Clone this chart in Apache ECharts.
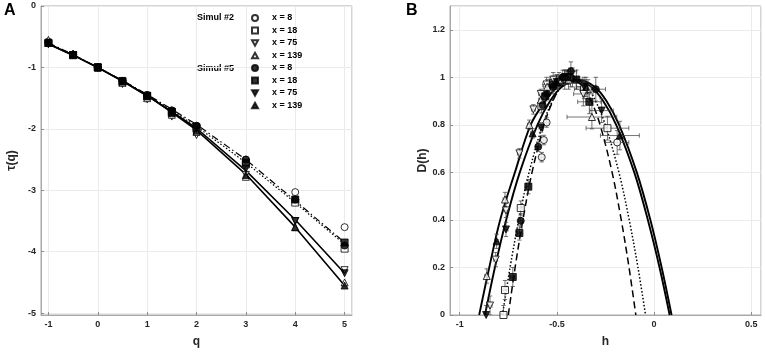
<!DOCTYPE html>
<html>
<head>
<meta charset="utf-8">
<script src="https://cdn.jsdelivr.net/npm/echarts@6/dist/echarts.min.js"></script>
<style>
  html, body { margin: 0; padding: 0; background: #fff; }
  #main { width: 765px; height: 353px; }
</style>
</head>
<body>
<div id="main"></div>
<script>
// ---- panel A: tau(q) ----
const qValues = [-1, -0.5, 0, 0.5, 1, 1.5, 2, 3, 4, 5];

// markers, Simul #2 (open) and Simul #5 (filled)
const tauS2x8 = [-0.58, -0.79, -1, -1.22, -1.45, -1.70, -1.95, -2.50, -3.03, -3.60];
const tauS2x18 = [-0.60, -0.80, -1, -1.24, -1.47, -1.74, -2.00, -2.58, -3.20, -3.95];
const tauS2x75 = [-0.62, -0.80, -1, -1.27, -1.52, -1.80, -2.10, -2.75, -3.50, -4.30];
const tauS2x139 = [-0.55, -0.78, -1, -1.25, -1.50, -1.77, -2.05, -2.78, -3.60, -4.50];
const tauS5x8 = [-0.60, -0.79, -1, -1.22, -1.45, -1.70, -1.95, -2.50, -3.15, -3.90];
const tauS5x18 = [-0.60, -0.80, -1, -1.22, -1.46, -1.72, -1.97, -2.55, -3.15, -3.85];
const tauS5x75 = [-0.62, -0.80, -1, -1.23, -1.47, -1.73, -2.00, -2.65, -3.50, -4.35];
const tauS5x139 = [-0.60, -0.78, -1, -1.23, -1.47, -1.74, -2.03, -2.75, -3.60, -4.55];

// fitted tau lines
const tauFit8 = [-0.60, -0.79, -1, -1.21, -1.44, -1.68, -1.93, -2.50, -3.17, -3.85];
const tauFit18 = [-0.61, -0.80, -1, -1.22, -1.45, -1.70, -1.96, -2.55, -3.20, -3.88];
const tauFit75 = [-0.62, -0.80, -1, -1.22, -1.46, -1.72, -1.99, -2.68, -3.48, -4.35];
const tauFit139 = [-0.62, -0.80, -1, -1.22, -1.46, -1.73, -2.02, -2.74, -3.60, -4.55];

// ---- panel B: D(h), points are [h, D, hErr, DErr] ----
const dhS2x8 = [[-0.19, 0.726, 0.06, 0.05], [-0.34, 0.95, 0.04, 0.04], [-0.43, 1.0, 0.03, 0.04], [-0.50, 0.98, 0.02, 0.03],
  [-0.553, 0.81, 0.01, 0.02], [-0.567, 0.736, 0.01, 0.02], [-0.578, 0.664, 0.01, 0.02]];
const dhS2x18 = [[-0.24, 0.786, 0.11, 0.05], [-0.36, 0.95, 0.05, 0.04], [-0.45, 1.0, 0.03, 0.03], [-0.52, 0.975, 0.02, 0.03],
  [-0.58, 0.88, 0.015, 0.03], [-0.686, 0.45, 0.01, 0.03], [-0.767, 0.105, 0.01, 0.04], [-0.775, 0.0, 0.01, 0.04]];
const dhS2x75 = [[-0.364, 0.93, 0.05, 0.05], [-0.46, 0.99, 0.03, 0.04], [-0.519, 0.99, 0.02, 0.03], [-0.553, 0.97, 0.02, 0.03],
  [-0.583, 0.93, 0.01, 0.02], [-0.621, 0.865, 0.01, 0.02], [-0.693, 0.68, 0.01, 0.02], [-0.762, 0.44, 0.01, 0.03],
  [-0.815, 0.233, 0.01, 0.03], [-0.844, 0.04, 0.01, 0.04]];
const dhS2x139 = [[-0.32, 0.833, 0.128, 0.05], [-0.44, 0.99, 0.04, 0.04], [-0.489, 0.99, 0.02, 0.03], [-0.55, 0.96, 0.02, 0.03],
  [-0.583, 0.905, 0.01, 0.02], [-0.642, 0.80, 0.01, 0.02], [-0.767, 0.486, 0.01, 0.03], [-0.861, 0.164, 0.01, 0.03]];
const dhS5x8 = [[-0.30, 0.95, 0.05, 0.05], [-0.428, 1.025, 0.03, 0.04], [-0.47, 1.0, 0.02, 0.03], [-0.52, 0.96, 0.02, 0.03],
  [-0.55, 0.93, 0.01, 0.02], [-0.573, 0.883, 0.01, 0.02], [-0.596, 0.708, 0.01, 0.02], [-0.686, 0.396, 0.01, 0.03]];
const dhS5x18 = [[-0.333, 0.897, 0.06, 0.05], [-0.40, 0.99, 0.03, 0.04], [-0.46, 1.0, 0.02, 0.03], [-0.52, 0.97, 0.02, 0.03],
  [-0.56, 0.92, 0.01, 0.02], [-0.647, 0.54, 0.01, 0.03], [-0.693, 0.345, 0.01, 0.03], [-0.727, 0.16, 0.01, 0.04]];
const dhS5x75 = [[-0.27, 0.86, 0.06, 0.05], [-0.36, 0.96, 0.04, 0.04], [-0.44, 1.0, 0.03, 0.03], [-0.50, 0.98, 0.02, 0.03],
  [-0.582, 0.789, 0.01, 0.02], [-0.762, 0.36, 0.01, 0.03], [-0.864, 0.0, 0.01, 0.04]];
const dhS5x139 = [[-0.176, 0.755, 0.10, 0.06], [-0.35, 0.96, 0.05, 0.04], [-0.42, 1.0, 0.03, 0.04], [-0.50, 0.98, 0.02, 0.03],
  [-0.625, 0.764, 0.01, 0.02], [-0.81, 0.31, 0.01, 0.03]];

// fitted D(h) curves as [h, D]
const dhFit8 = [[-0.75, 0], [-0.715, 0.2], [-0.675, 0.4], [-0.628, 0.6], [-0.566, 0.8], [-0.521, 0.9], [-0.479, 0.96],
  [-0.422, 0.99], [-0.365, 0.96], [-0.323, 0.9], [-0.278, 0.8], [-0.216, 0.6], [-0.169, 0.4], [-0.129, 0.2], [-0.094, 0]];
const dhFit18 = [[-0.78, 0], [-0.741, 0.2], [-0.696, 0.4], [-0.643, 0.6], [-0.573, 0.8], [-0.523, 0.9], [-0.476, 0.96],
  [-0.412, 0.99], [-0.348, 0.96], [-0.301, 0.9], [-0.251, 0.8], [-0.181, 0.6], [-0.128, 0.4], [-0.083, 0.2], [-0.044, 0]];
const dhFit75 = [[-0.87, 0], [-0.819, 0.2], [-0.761, 0.4], [-0.691, 0.6], [-0.600, 0.8], [-0.535, 0.9], [-0.474, 0.96],
  [-0.39, 0.99], [-0.306, 0.96], [-0.245, 0.9], [-0.180, 0.8], [-0.089, 0.6], [-0.019, 0.4], [0.039, 0.2], [0.09, 0]];
const dhFit139 = [[-0.90, 0], [-0.848, 0.2], [-0.792, 0.4], [-0.716, 0.6], [-0.635, 0.8], [-0.560, 0.9], [-0.495, 0.96],
  [-0.41, 0.99], [-0.325, 0.96], [-0.262, 0.9], [-0.195, 0.8], [-0.102, 0.6], [-0.032, 0.4], [0.028, 0.2], [0.08, 0]];

const upTri = 'path://M5,0L10,9L0,9Z';
const downTri = 'path://M0,0L10,0L5,9Z';
const openStyle = { color: '#fff', borderColor: '#000', borderWidth: 1 };
const fillStyle = { color: '#000', borderColor: '#000', borderWidth: 1 };

// name has trailing space for Simul #5 so legend entries stay separate
const markerSets = [
  { name: 'x = 8', symbol: 'circle', style: openStyle, tau: tauS2x8, dh: dhS2x8 },
  { name: 'x = 18', symbol: 'rect', style: openStyle, tau: tauS2x18, dh: dhS2x18 },
  { name: 'x = 75', symbol: downTri, style: openStyle, tau: tauS2x75, dh: dhS2x75 },
  { name: 'x = 139', symbol: upTri, style: openStyle, tau: tauS2x139, dh: dhS2x139 },
  { name: 'x = 8 ', symbol: 'circle', style: fillStyle, tau: tauS5x8, dh: dhS5x8 },
  { name: 'x = 18 ', symbol: 'rect', style: fillStyle, tau: tauS5x18, dh: dhS5x18 },
  { name: 'x = 75 ', symbol: downTri, style: fillStyle, tau: tauS5x75, dh: dhS5x75 },
  { name: 'x = 139 ', symbol: upTri, style: fillStyle, tau: tauS5x139, dh: dhS5x139 },
];

const fitSets = [
  { tau: tauFit8, dh: dhFit8, type: [7, 3, 1.5, 3], width: 1.2, bType: [7, 4] },
  { tau: tauFit18, dh: dhFit18, type: [1.5, 2], width: 1.2, bType: [1.5, 2] },
  { tau: tauFit75, dh: dhFit75, type: 'solid', width: 1.6, bType: 'solid' },
  { tau: tauFit139, dh: dhFit139, type: 'solid', width: 1.6, bType: 'solid' },
];

const labelFont = { fontFamily: 'Liberation Sans', fontWeight: 'bold', fontSize: 9, color: '#262626' };
const nameFont = { fontFamily: 'Liberation Sans', fontWeight: 'bold', fontSize: 12, color: '#262626' };

function errRender(params, api) {
  const h = api.value(0), d = api.value(1), eh = api.value(2), ed = api.value(3);
  const c = api.coord([h, d]);
  const l = api.coord([h - eh, d]), r = api.coord([h + eh, d]);
  const t = api.coord([h, d + ed]), b = api.coord([h, d - ed]);
  const cap = 2.2;
  const style = { stroke: '#3a3a3a', lineWidth: 0.7 };
  return {
    type: 'group',
    children: [
      { type: 'line', shape: { x1: l[0], y1: c[1], x2: r[0], y2: c[1] }, style },
      { type: 'line', shape: { x1: l[0], y1: c[1] - cap, x2: l[0], y2: c[1] + cap }, style },
      { type: 'line', shape: { x1: r[0], y1: c[1] - cap, x2: r[0], y2: c[1] + cap }, style },
      { type: 'line', shape: { x1: c[0], y1: t[1], x2: c[0], y2: b[1] }, style },
      { type: 'line', shape: { x1: c[0] - cap, y1: t[1], x2: c[0] + cap, y2: t[1] }, style },
      { type: 'line', shape: { x1: c[0] - cap, y1: b[1], x2: c[0] + cap, y2: b[1] }, style },
    ],
  };
}

function valueAxis(extra) {
  return Object.assign({
    type: 'value',
    axisLine: { show: true, onZero: false, lineStyle: { color: '#a8a8a8', width: 1 } },
    axisTick: { show: true, inside: true, length: 3, lineStyle: { color: '#8c8c8c' } },
    splitLine: { show: true, lineStyle: { color: '#ebebeb', width: 1 } },
    axisLabel: Object.assign({ margin: 5 }, labelFont),
    nameTextStyle: nameFont,
    nameLocation: 'middle',
  }, extra);
}

const series = [];
// panel A lines
fitSets.forEach(f => {
  series.push({
    type: 'line', xAxisIndex: 0, yAxisIndex: 0, symbol: 'none', silent: true, z: 2,
    data: qValues.map((q, i) => [q, f.tau[i]]),
    lineStyle: { color: '#000', width: f.width, type: f.type },
  });
});
// panel A markers
markerSets.forEach(m => {
  series.push({
    type: 'scatter', name: m.name, xAxisIndex: 0, yAxisIndex: 0, z: 3,
    symbol: m.symbol, symbolSize: 7, itemStyle: m.style,
    data: qValues.map((q, i) => [q, m.tau[i]]),
  });
});
// panel B curves
fitSets.forEach(f => {
  series.push({
    type: 'line', xAxisIndex: 1, yAxisIndex: 1, symbol: 'none', silent: true, smooth: 0.35, z: 2,
    data: f.dh,
    lineStyle: { color: '#000', width: f.width + 0.3, type: f.bType },
  });
});
// panel B error bars and markers
markerSets.forEach(m => {
  series.push({
    type: 'custom', name: 'err' + m.name, xAxisIndex: 1, yAxisIndex: 1, z: 3, clip: true, silent: true,
    renderItem: errRender, encode: { x: 0, y: 1 },
    data: m.dh,
  });
  series.push({
    type: 'scatter', name: m.name, xAxisIndex: 1, yAxisIndex: 1, z: 4,
    symbol: m.symbol, symbolSize: 7, itemStyle: m.style,
    data: m.dh.map(p => [p[0], p[1]]),
  });
});

const chart = echarts.init(document.getElementById('main'), null, { renderer: 'canvas' });
chart.setOption({
  backgroundColor: '#fff',
  animation: false,
  grid: [
    { left: 41, top: 6, width: 311, height: 309, show: true, borderColor: '#a8a8a8', borderWidth: 1 },
    { left: 450, top: 6, width: 311, height: 310, show: true, borderColor: '#a8a8a8', borderWidth: 1 },
  ],
  xAxis: [
    valueAxis({ gridIndex: 0, min: -1.15, max: 5.15, splitNumber: 5, name: 'q', nameGap: 21,
      axisLabel: Object.assign({ margin: 5, showMinLabel: false, showMaxLabel: false }, labelFont) }),
    valueAxis({ gridIndex: 1, min: -1.05, max: 0.55, splitNumber: 3, name: 'h', nameGap: 21,
      axisLabel: Object.assign({ margin: 5, showMinLabel: false, showMaxLabel: false }, labelFont) }),
  ],
  yAxis: [
    valueAxis({ gridIndex: 0, min: -5.03, max: 0, splitNumber: 5, name: 'τ(q)', nameGap: 23,
      axisLabel: Object.assign({ margin: 5, showMinLabel: false, showMaxLabel: true }, labelFont) }),
    valueAxis({ gridIndex: 1, min: 0, max: 1.3, splitNumber: 6, name: 'D(h)', nameGap: 19,
      axisLabel: Object.assign({ margin: 5, showMinLabel: true, showMaxLabel: false }, labelFont) }),
  ],
  legend: {
    data: markerSets.map(m => m.name),
    orient: 'vertical',
    left: 246, top: 7, padding: 5,
    itemWidth: 6, itemHeight: 6, itemGap: 0.5,
    formatter: n => n.trim(),
    selectedMode: false,
    textStyle: { fontFamily: 'Liberation Sans', fontWeight: 'bold', fontSize: 9, color: '#000', lineHeight: 12, padding: [0, 0, 0, 9] },
  },
  graphic: [
    { type: 'text', left: 4, top: 3, style: { text: 'A', font: 'bold 16px "Liberation Sans"', fill: '#000' } },
    { type: 'text', left: 406, top: 3, style: { text: 'B', font: 'bold 16px "Liberation Sans"', fill: '#000' } },
    { type: 'text', left: 197, top: 13.5, style: { text: 'Simul #2', font: 'bold 9px "Liberation Sans"', fill: '#000' } },
    { type: 'text', left: 197, top: 64, style: { text: 'Simul #5', font: 'bold 9px "Liberation Sans"', fill: '#000' } },
  ],
  series: series,
});
</script>
</body>
</html>
